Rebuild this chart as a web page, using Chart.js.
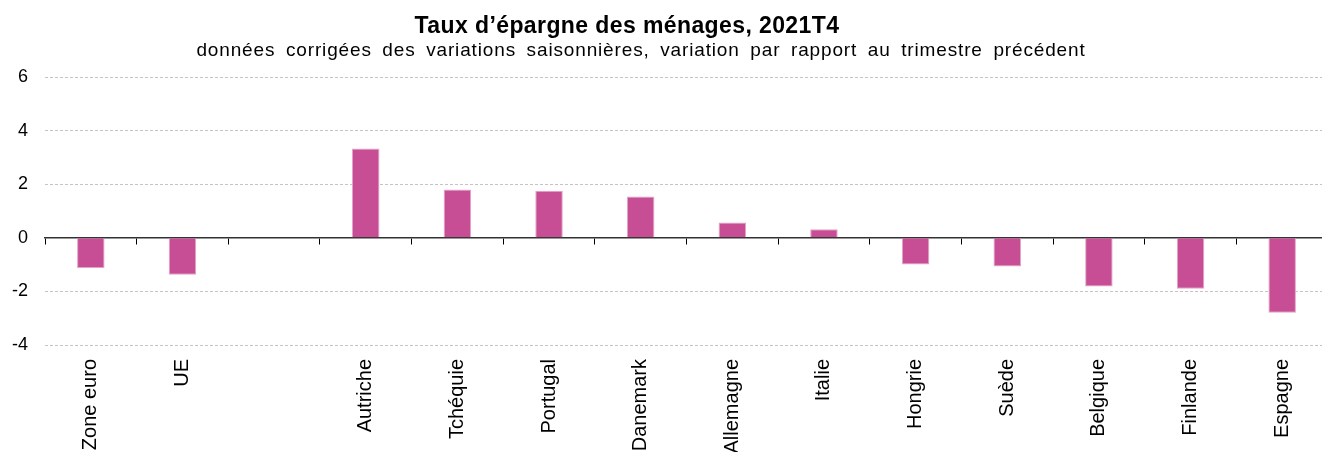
<!DOCTYPE html>
<html>
<head>
<meta charset="utf-8">
<script src="https://cdn.jsdelivr.net/npm/chart.js@4.4.1/dist/chart.umd.min.js"></script>
<style>
    html, body { margin: 0; padding: 0; background: #fff; overflow: hidden; }
    #wrap { width: 1322px; height: 452px; overflow: hidden; }
    #wrap canvas { display: block; }
</style>
</head>
<body>
<div id="wrap"><canvas id="savingsChart" width="1330" height="452"></canvas></div>
<script>
// Chart data
const titleText = 'Taux d’épargne des ménages, 2021T4';
const subtitleText = 'données corrigées des variations saisonnières, variation par rapport au trimestre précédent';
const countries = ['Zone euro', 'UE', '', 'Autriche', 'Tchéquie', 'Portugal', 'Danemark',
    'Allemagne', 'Italie', 'Hongrie', 'Suède', 'Belgique', 'Finlande', 'Espagne'];
const savingsChange = [-1.13, -1.38, null, 3.33, 1.80, 1.76, 1.54, 0.57, 0.32, -1.00, -1.07, -1.82, -1.90, -2.80];
const yMin = -4;
const yMax = 6;
const yStep = 2;

const FONT = '"Liberation Sans", Arial, sans-serif';

// Title and subtitle drawn above the plot
const titlePlugin = {
    id: 'titles',
    afterDraw(chart) {
        const ctx = chart.ctx;
        ctx.save();
        ctx.fillStyle = '#000';
        ctx.textAlign = 'center';
        ctx.textBaseline = 'alphabetic';
        ctx.font = 'bold 23px ' + FONT;
        ctx.letterSpacing = '0.4px';
        ctx.fillText(titleText, 627, 33);
        ctx.font = '19px ' + FONT;
        ctx.letterSpacing = '0.85px';
        ctx.wordSpacing = '4.5px';
        ctx.fillText(subtitleText, 641, 56);
        ctx.restore();
    }
};

document.addEventListener('DOMContentLoaded', function() {
    const ctx = document.getElementById('savingsChart').getContext('2d');
    new Chart(ctx, {
        type: 'bar',
        data: {
            labels: countries,
            datasets: [{
                data: savingsChange,
                backgroundColor: '#C74E95',
                borderColor: '#E2A3C7',
                borderWidth: 1,
                barPercentage: 0.3,
                categoryPercentage: 1.0
            }]
        },
        options: {
            responsive: false,
            animation: false,
            layout: {
                padding: { top: 77, left: 0, right: 2, bottom: 0 }
            },
            plugins: {
                legend: { display: false },
                tooltip: { enabled: false }
            },
            scales: {
                x: {
                    type: 'category',
                    position: 'bottom',
                    offset: true,
                    grid: { display: false, drawTicks: false },
                    border: { display: false },
                    ticks: {
                        color: '#000',
                        font: { family: FONT, size: 20 },
                        minRotation: 90,
                        maxRotation: 90,
                        autoSkip: false,
                        padding: 14
                    },
                    afterFit(scale) { scale.height = 107; }
                },
                xZero: {
                    axis: 'x',
                    type: 'category',
                    position: { y: 0 },
                    offset: true,
                    z: 1,
                    grid: {
                        offset: true,
                        drawOnChartArea: false,
                        drawTicks: true,
                        tickLength: 6,
                        tickColor: '#000',
                        tickWidth: 1
                    },
                    border: { display: true, color: '#333', width: 1.5 },
                    ticks: { display: false }
                },
                y: {
                    min: yMin,
                    max: yMax,
                    ticks: {
                        stepSize: yStep,
                        color: '#000',
                        font: { family: FONT, size: 18 },
                        padding: 17
                    },
                    grid: {
                        drawTicks: false,
                        color: c => (c.tick && c.tick.value === 0) ? 'rgba(0,0,0,0)' : '#c4c4c4',
                        lineWidth: 1
                    },
                    border: { display: false, dash: [3, 2] },
                    afterFit(scale) { scale.width = 45; }
                }
            }
        },
        plugins: [titlePlugin]
    });
});
</script>
</body>
</html>
